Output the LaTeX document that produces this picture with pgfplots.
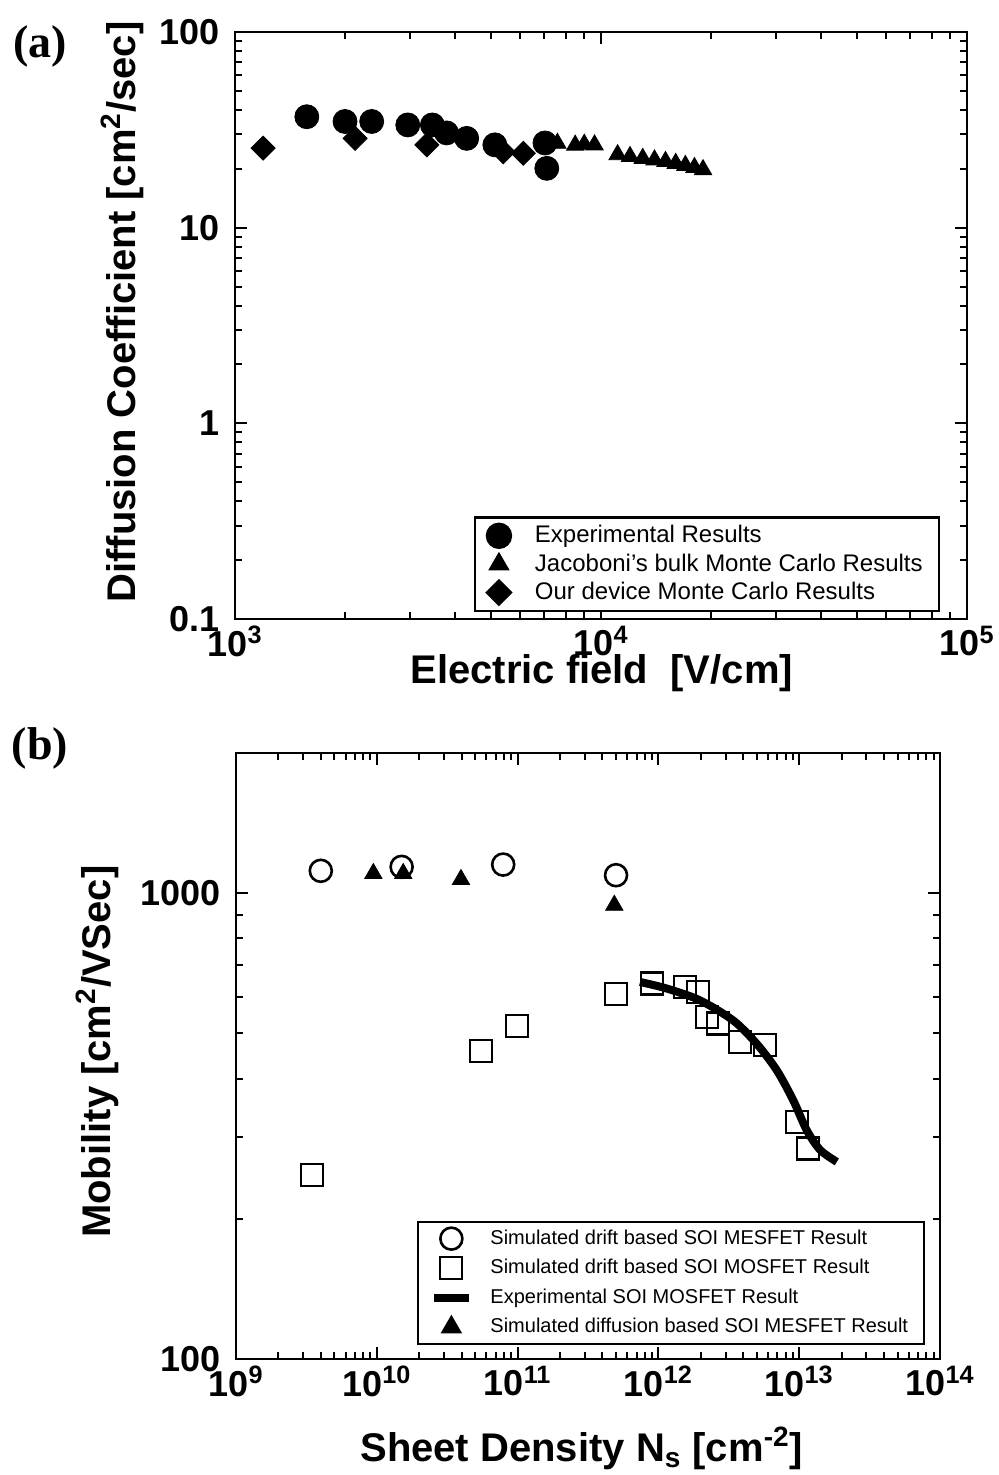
\documentclass[border=0pt]{standalone}
\usepackage{fontspec}
\setmainfont{Liberation Sans}
\newfontfamily\timesbf{Liberation Serif}
\usepackage{pgfplots}
\pgfplotsset{compat=1.18}

\pgfplotsset{every axis/.append style={
    scale only axis,
    axis line style={line width=1.2pt},
    major tick length=6pt, minor tick length=3.5pt,
    tick align=inside,
    tick style={line width=1pt, black},
    tick label style={font=\fontsize{18}{20}\selectfont\bfseries},
    yticklabel style={xshift=-4pt},
    x label style={font=\fontsize{20}{22}\selectfont\bfseries},
    y label style={font=\fontsize{20}{22}\selectfont\bfseries},
    legend cell align=left,
}}

\begin{document}
\begin{tikzpicture}
\node[font=\timesbf\bfseries\fontsize{23}{25}\selectfont] at (20pt,-23pt) {(a)};
\node[font=\timesbf\bfseries\fontsize{23}{25}\selectfont] at (20pt,-374pt) {(b)};

% panel (a)
\begin{axis}[xmode=log, ymode=log, anchor=south west,
  at={(117.5pt,-309.5pt)}, width=366pt, height=293.5pt,
  xmin=1e3, xmax=1e5, ymin=0.1, ymax=100,
  xtick={1e3,1e4,1e5},
  xticklabels={10\textsuperscript{3},10\textsuperscript{4},10\textsuperscript{5}},
  minor xtick={2000,3000,4000,5000,6000,7000,8000,9000,20000,30000,40000,50000,60000,70000,80000,90000},
  ytick={0.1,1,10,100},
  yticklabels={0.1,1,10,100},
  minor ytick={0.2,0.3,0.4,0.5,0.6,0.7,0.8,0.9,2,3,4,5,6,7,8,9,20,30,40,50,60,70,80,90},
  xlabel={Electric field\ \ [V/cm]},
  ylabel={Diffusion Coefficient [cm\textsuperscript{2}/sec]},
  xlabel style={at={(axis description cs:0.501,-0.092)}, anchor=center},
  ylabel style={at={(axis description cs:-0.154,0.523)}, anchor=center},
  legend style={draw=black, line width=1.2pt, fill=white,
    at={(0.963,0.012)}, anchor=south east, inner xsep=6pt,
    font=\fontsize{12}{13}\selectfont, row sep=0pt,
    /tikz/every odd column/.append style={column sep=10pt}},
]
\addplot[only marks, mark=*, mark size=6pt, black] coordinates {
(1571,36.9) (1998,34.9) (2363,34.9) (2965,33.5) (3462,33.5) (3785,30.5)
(4296,28.6) (5128,26.5) (7030,27.1) (7110,20.1)};
\addlegendentry{Experimental Results}
\addplot[only marks, mark=triangle*, mark size=5pt, black] coordinates {
(7000,27.3) (7600,27.0) (8500,26.4) (9000,26.7) (9600,26.5)
(11100,23.6) (12000,23.1) (13000,22.6) (14000,22.2) (15000,21.8)
(16000,21.3) (17000,20.8) (18000,20.3) (19000,19.8)};
\addlegendentry{Jacoboni's bulk Monte Carlo Results}
\addplot[only marks, mark=square*, mark size=4.25pt, black,
  mark options={rotate=45}] coordinates {
(1193,25.5) (2128,28.6) (3343,26.5) (5407,24.4) (6134,24.0)};
\addlegendentry{Our device Monte Carlo Results}
\end{axis}

% panel (b)
\begin{axis}[xmode=log, ymode=log, anchor=south west,
  at={(118pt,-679.5pt)}, width=352pt, height=303pt,
  xmin=1e9, xmax=1e14, ymin=100, ymax=2000,
  xtick={1e9,1e10,1e11,1e12,1e13,1e14},
  xticklabels={10\textsuperscript{9},10\textsuperscript{10},10\textsuperscript{11},10\textsuperscript{12},10\textsuperscript{13},10\textsuperscript{14}},
  minor xtick={2e9,3e9,4e9,5e9,6e9,7e9,8e9,9e9,2e10,3e10,4e10,5e10,6e10,7e10,8e10,9e10,2e11,3e11,4e11,5e11,6e11,7e11,8e11,9e11,2e12,3e12,4e12,5e12,6e12,7e12,8e12,9e12,2e13,3e13,4e13,5e13,6e13,7e13,8e13,9e13},
  ytick={100,1000},
  yticklabels={100,1000},
  minor ytick={200,300,400,500,600,700,800,900,2000},
  xlabel={Sheet Density N\textsubscript{s} [cm\textsuperscript{-2}]},
  ylabel={Mobility [cm\textsuperscript{2}/VSec]},
  xlabel style={at={(axis description cs:0.491,-0.147)}, anchor=center},
  ylabel style={at={(axis description cs:-0.197,0.507)}, anchor=center},
  legend style={draw=black, line width=1.2pt, fill=white,
    at={(0.979,0.023)}, anchor=south east, inner xsep=6pt,
    font=\fontsize{10}{11}\selectfont, row sep=2pt,
    /tikz/every odd column/.append style={column sep=7pt}},
]
\addplot[only marks, mark=o, mark size=5.5pt, black, line width=1.3pt] coordinates {
(4.0e9,1117) (1.5e10,1139) (7.9e10,1152) (5.0e11,1093)};
\addlegendentry{Simulated drift based SOI MESFET Result}
\addplot[only marks, mark=square, mark size=5.5pt, black, line width=1.1pt] coordinates {
(3.47e9,248) (5.47e10,459) (9.95e10,518) (5.0e11,607) (8.96e11,640)
(1.55e12,629) (1.92e12,614) (2.20e12,543) (2.66e12,525) (3.80e12,480)
(5.72e12,472) (9.6e12,323) (1.16e13,283)};
\addlegendentry{Simulated drift based SOI MOSFET Result}
\addplot[black, line width=4pt, smooth] coordinates {
(7.4e11,645) (1.15e12,624) (1.97e12,589) (3.40e12,533) (4.99e12,475)
(6.92e12,417) (9.08e12,359) (1.13e13,310) (1.41e13,281) (1.85e13,265)};
\addlegendentry{Experimental SOI MOSFET Result}
\addplot[only marks, mark=triangle*, mark size=5pt, black] coordinates {
(9.45e9,1102) (1.54e10,1102) (3.96e10,1070) (4.86e11,942)};
\addlegendentry{Simulated diffusion based SOI MESFET Result}
\end{axis}
\pgfresetboundingbox
\path[use as bounding box] (0,0) rectangle (499pt,-737.5pt);
\end{tikzpicture}
\end{document}
